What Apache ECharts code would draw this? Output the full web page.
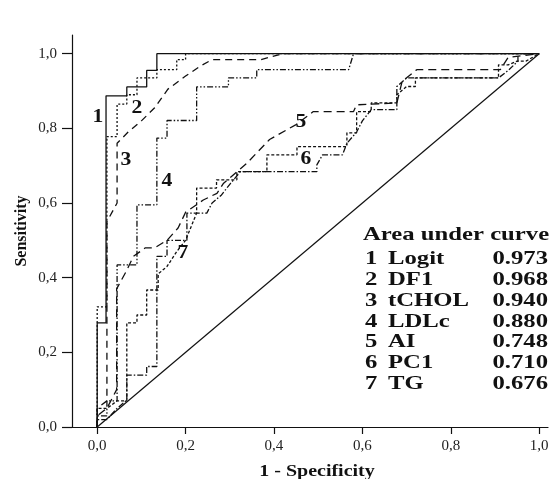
<!DOCTYPE html>
<html>
<head>
<meta charset="utf-8">
<script src="https://cdn.jsdelivr.net/npm/echarts@6/dist/echarts.min.js"></script>
<style>
  html, body { margin: 0; padding: 0; background: #fff; }
  #chart { width: 554px; height: 479px; }
</style>
</head>
<body>
<div id="chart"></div>
<script>
// ROC curves: [1 - specificity, sensitivity]
var rocLogit = [[0,0],[0,0.279],[0.02,0.279],[0.02,0.887],[0.067,0.887],[0.067,0.911],[0.112,0.911],[0.112,0.955],[0.135,0.955],[0.135,1],[1,1]];
var rocDF1 = [[0,0],[0,0.322],[0.022,0.322],[0.022,0.778],[0.045,0.778],[0.045,0.865],[0.067,0.865],[0.067,0.89],[0.09,0.89],[0.09,0.935],[0.135,0.935],[0.135,0.957],[0.18,0.957],[0.18,0.984],[0.2,0.984],[0.2,1],[1,1]];
var rocTCHOL = [[0,0],[0,0.05],[0.022,0.07],[0.022,0.55],[0.045,0.6],[0.045,0.76],[0.07,0.79],[0.1,0.82],[0.13,0.855],[0.16,0.905],[0.2,0.94],[0.235,0.968],[0.26,0.984],[0.37,0.984],[0.42,1],[1,1]];
var rocLDLc = [[0,0],[0,0.03],[0.022,0.03],[0.022,0.07],[0.045,0.07],[0.045,0.434],[0.09,0.434],[0.09,0.595],[0.135,0.595],[0.135,0.774],[0.158,0.774],[0.158,0.821],[0.225,0.821],[0.225,0.911],[0.297,0.911],[0.297,0.935],[0.361,0.935],[0.361,0.957],[0.569,0.957],[0.58,1],[1,1]];
var rocAI = [[0,0],[0,0.03],[0.022,0.05],[0.044,0.1],[0.044,0.37],[0.067,0.42],[0.082,0.457],[0.109,0.48],[0.13,0.48],[0.158,0.5],[0.183,0.533],[0.2,0.575],[0.24,0.608],[0.271,0.626],[0.286,0.653],[0.339,0.707],[0.39,0.77],[0.45,0.81],[0.489,0.845],[0.58,0.845],[0.587,0.863],[0.678,0.868],[0.69,0.926],[0.723,0.957],[0.912,0.957],[0.93,0.99],[1,1]];
var rocPC1 = [[0,0],[0,0.05],[0.022,0.05],[0.045,0.07],[0.067,0.07],[0.067,0.279],[0.09,0.279],[0.09,0.3],[0.112,0.3],[0.112,0.367],[0.138,0.367],[0.138,0.41],[0.158,0.43],[0.18,0.47],[0.2,0.5],[0.225,0.573],[0.225,0.64],[0.27,0.64],[0.27,0.662],[0.316,0.662],[0.316,0.684],[0.384,0.684],[0.384,0.729],[0.452,0.729],[0.452,0.751],[0.565,0.751],[0.565,0.788],[0.587,0.788],[0.587,0.845],[0.62,0.845],[0.62,0.868],[0.678,0.868],[0.678,0.89],[0.7,0.912],[0.72,0.912],[0.72,0.935],[0.908,0.935],[0.908,0.97],[0.93,0.97],[0.95,0.98],[0.97,0.98],[1,1]];
var rocTG = [[0,0],[0,0.02],[0.022,0.02],[0.045,0.05],[0.067,0.072],[0.067,0.139],[0.112,0.139],[0.112,0.162],[0.135,0.162],[0.135,0.457],[0.158,0.457],[0.158,0.5],[0.203,0.5],[0.203,0.573],[0.248,0.573],[0.26,0.6],[0.28,0.62],[0.3,0.65],[0.324,0.684],[0.497,0.684],[0.497,0.702],[0.51,0.729],[0.555,0.729],[0.565,0.76],[0.587,0.79],[0.6,0.82],[0.62,0.85],[0.678,0.85],[0.678,0.912],[0.7,0.935],[0.908,0.935],[0.93,0.955],[0.952,0.98],[0.952,1],[1,1]];
var refLine = [[0,0],[1,1]];

var curveNames = ['Logit', 'DF1', 'tCHOL', 'LDLc', 'AI', 'PC1', 'TG'];
var aucValues = [0.973, 0.968, 0.940, 0.880, 0.748, 0.710, 0.676];
var xTicks = [0, 0.2, 0.4, 0.6, 0.8, 1.0];
var yTicks = [0, 0.2, 0.4, 0.6, 0.8, 1.0];

var curves = [rocLogit, rocDF1, rocTCHOL, rocLDLc, rocAI, rocPC1, rocTG];
// dash patterns per curve (solid, dotted, long dash, dash-dot-dot, long dash, dotted, dash-dot)
var dashes = ['solid', [2, 2], [7, 5], [6, 2, 1.5, 2, 1.5, 2], [8, 5], [3, 2], [6, 2, 1.5, 2]];

var serif = '"Liberation Serif", "Times New Roman", serif';
var ink = '#111';

var myChart = echarts.init(document.getElementById('chart'));

var series = curves.map(function (d, i) {
    return {
        name: curveNames[i],
        type: 'line',
        data: d,
        symbol: 'none',
        silent: true,
        lineStyle: { color: ink, width: 1.3, type: dashes[i] }
    };
});
series.push({
    name: 'reference',
    type: 'line',
    data: refLine,
    symbol: 'none',
    silent: true,
    lineStyle: { color: ink, width: 1.2, type: 'solid' }
});

// text annotations: axis names, curve numbers, AUC table
var labelPos = [[98, 117], [137, 108], [126, 160], [167, 181], [301, 122], [306, 159], [183, 253]];
var graphics = [
    { type: 'text', x: 317, y: 472, scaleX: 1.25,
      style: { text: '1 - Specificity', font: 'bold 16px ' + serif, fill: ink,
               align: 'center', verticalAlign: 'middle', textAlign: 'center', textVerticalAlign: 'middle' } },
    { type: 'text', x: 22, y: 231, rotation: Math.PI / 2,
      style: { text: 'Sensitivity', font: 'bold 16px ' + serif, fill: ink,
               align: 'center', verticalAlign: 'middle', textAlign: 'center', textVerticalAlign: 'middle' } },
    { type: 'text', x: 363, y: 235, scaleX: 1.3,
      style: { text: 'Area under curve', font: 'bold 19px ' + serif, fill: ink,
               align: 'left', verticalAlign: 'middle', textAlign: 'left', textVerticalAlign: 'middle' } }
];
labelPos.forEach(function (p, i) {
    graphics.push({ type: 'text', x: p[0], y: p[1], scaleX: 1.2,
        style: { text: String(i + 1), font: 'bold 18px ' + serif, fill: ink,
                 align: 'center', verticalAlign: 'middle', textAlign: 'center', textVerticalAlign: 'middle' } });
});
curveNames.forEach(function (n, i) {
    var y = 259.5 + i * 20.7;
    var cells = [
        { x: 365, t: String(i + 1), a: 'left' },
        { x: 388, t: n, a: 'left' },
        { x: 548, t: aucValues[i].toFixed(3), a: 'right' }
    ];
    cells.forEach(function (c) {
        graphics.push({ type: 'text', x: c.x, y: y, scaleX: 1.3,
            style: { text: c.t, font: 'bold 19px ' + serif, fill: ink,
                     align: c.a, verticalAlign: 'middle', textAlign: c.a, textVerticalAlign: 'middle' } });
    });
});

var option = {
    animation: false,
    textStyle: { fontFamily: serif },
    grid: { left: 72, right: 6, top: 35, bottom: 52 },
    xAxis: {
        type: 'value',
        min: -0.057,
        max: 1.02,
        splitLine: { show: false },
        axisLine: { show: true, onZero: false, lineStyle: { color: ink, width: 1.2 } },
        axisTick: { show: true, length: 7, customValues: xTicks, lineStyle: { color: ink, width: 1.2 } },
        axisLabel: {
            customValues: xTicks, margin: 12, fontSize: 15, color: '#222',
            formatter: function (v) { return v.toFixed(1).replace('.', ','); }
        }
    },
    yAxis: {
        type: 'value',
        min: 0,
        max: 1.05,
        splitLine: { show: false },
        axisLine: { show: true, onZero: false, lineStyle: { color: ink, width: 1.2 } },
        axisTick: { show: true, length: 10, customValues: yTicks, lineStyle: { color: ink, width: 1.2 } },
        axisLabel: {
            customValues: yTicks, margin: 15, fontSize: 15, color: '#222',
            formatter: function (v) { return v.toFixed(1).replace('.', ','); }
        }
    },
    graphic: graphics,
    series: series
};

myChart.setOption(option);
</script>
</body>
</html>
